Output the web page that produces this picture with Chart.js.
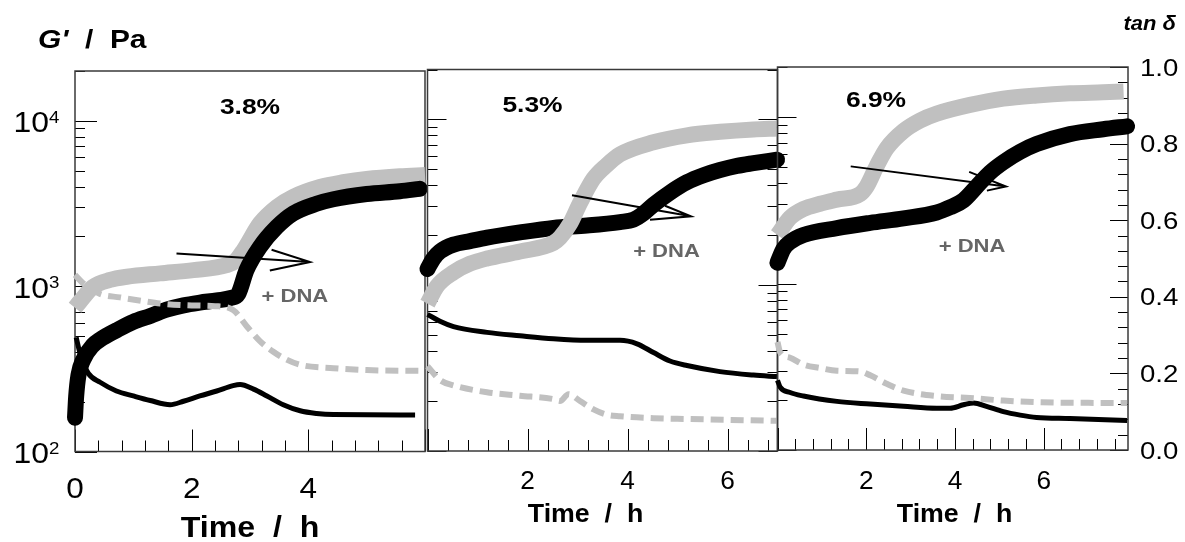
<!DOCTYPE html>
<html>
<head>
<meta charset="utf-8">
<script src="https://cdn.jsdelivr.net/npm/chart.js@4.4.1/dist/chart.umd.min.js"></script>
<style>
  body { margin: 0; background: #fff; }
  #wrap { position: relative; width: 1185px; height: 542px; }
  #wrap canvas { position: absolute; left: 0; top: 0; }
</style>
</head>
<body>
<div id="wrap">
  <canvas id="c1" width="1185" height="542"></canvas>
  <canvas id="c2" width="1185" height="542"></canvas>
  <canvas id="c3" width="1185" height="542"></canvas>
</div>
<script>
// ---- 3.8 % ----
let p1GreyHours = [0, 0.09, 0.31, 0.6, 0.89, 1.46, 2.03, 2.6, 2.75, 2.89, 3.17, 3.46, 3.74, 4.2, 4.6, 5.0, 5.57, 6.0]
let p1GreyG = [740, 810, 990, 1090, 1140, 1195, 1250, 1340, 1420, 1650, 2394, 3013, 3467, 3980, 4250, 4450, 4620, 4700]
let p1BlackHours = [0, 0.02, 0.06, 0.14, 0.31, 0.43, 0.71, 1.0, 1.29, 1.57, 1.86, 2.14, 2.43, 2.68, 2.8, 2.94, 3.17, 3.46, 3.74, 4.14, 4.43, 5.0, 5.57, 5.91]
let p1BlackG = [160, 215, 290, 358, 440, 475, 540, 608, 660, 720, 765, 795, 820, 850, 900, 1250, 1726, 2280, 2750, 3150, 3354, 3606, 3749, 3877]
let p1TanBlackHours = [0.02, 0.1, 0.23, 0.43, 0.71, 1.0, 1.29, 1.63, 1.86, 2.14, 2.43, 2.71, 2.83, 3.06, 3.29, 3.57, 3.86, 4.14, 4.43, 5.83]
let p1TanBlack = [0.30, 0.25, 0.205, 0.182, 0.159, 0.146, 0.134, 0.123, 0.132, 0.146, 0.159, 0.173, 0.176, 0.164, 0.146, 0.123, 0.107, 0.100, 0.097, 0.096]
let p1TanGreyHours = [0, 0.14, 0.43, 0.77, 1.14, 1.46, 2.0, 2.4, 2.71, 2.94, 3.17, 3.4, 3.57, 3.86, 4.43, 5.0, 6.0]
let p1TanGrey = [0.464, 0.442, 0.414, 0.405, 0.396, 0.389, 0.384, 0.382, 0.372, 0.33, 0.29, 0.262, 0.246, 0.228, 0.219, 0.214, 0.212]

// ---- 5.3 % ----
let p2GreyHours = [0, 0.19, 0.52, 0.85, 1.19, 1.85, 2.52, 2.65, 2.85, 3.05, 3.32, 3.59, 3.85, 4.52, 5.19, 5.85, 6.52, 6.99]
let p2GreyG = [774, 986, 1195, 1348, 1449, 1597, 1800, 1935, 2346, 3132, 4389, 5321, 6150, 7280, 8017, 8414, 8700, 8824]
let p2BlackHours = [0, 0.12, 0.25, 0.52, 0.85, 1.19, 1.85, 2.52, 3.19, 3.85, 4.12, 4.32, 4.52, 4.85, 5.19, 5.52, 5.85, 6.19, 6.52, 6.99]
let p2BlackG = [1253, 1449, 1595, 1757, 1844, 1935, 2081, 2215, 2291, 2404, 2486, 2710, 3057, 3620, 4182, 4606, 4951, 5245, 5448, 5718]
let p2TanBlackHours = [0, 0.25, 0.52, 1.19, 1.85, 2.52, 3.19, 3.85, 4.19, 4.52, 4.85, 5.19, 5.85, 6.52, 6.99]
let p2TanBlack = [0.358, 0.34, 0.326, 0.311, 0.302, 0.294, 0.29, 0.29, 0.281, 0.258, 0.236, 0.224, 0.208, 0.199, 0.195]
let p2TanGreyHours = [0, 0.25, 0.52, 1.19, 1.85, 2.52, 2.65, 2.82, 3.05, 3.32, 3.59, 3.85, 4.52, 5.19, 6.99]
let p2TanGrey = [0.222, 0.186, 0.172, 0.154, 0.145, 0.136, 0.131, 0.149, 0.131, 0.109, 0.095, 0.091, 0.086, 0.084, 0.079]

// ---- 6.9 % ----
let p3GreyHours = [0, 0.285, 0.585, 0.96, 1.34, 1.86, 2.01, 2.24, 2.46, 2.84, 3.21, 3.59, 4.34, 5.09, 5.84, 6.59, 7.34, 7.8]
let p3GreyG = [1957, 2488, 2805, 3013, 3193, 3448, 3831, 5109, 6494, 8254, 9532, 10491, 11835, 12900, 13500, 13900, 14100, 14250]
let p3BlackHours = [0, 0.135, 0.285, 0.585, 1.34, 2.09, 2.84, 3.59, 3.89, 4.19, 4.49, 4.79, 5.09, 5.47, 5.84, 6.59, 7.34, 7.88]
let p3BlackG = [1334, 1616, 1778, 1957, 2154, 2316, 2466, 2675, 2872, 3162, 3831, 4642, 5358, 6190, 6885, 7900, 8450, 8800]
let p3TanBlackHours = [0, 0.06, 0.285, 0.585, 1.34, 2.09, 2.84, 3.59, 3.89, 4.19, 4.42, 4.71, 5.09, 5.47, 5.84, 6.59, 7.88]
let p3TanBlack = [0.182, 0.164, 0.15, 0.141, 0.127, 0.12, 0.114, 0.109, 0.109, 0.118, 0.123, 0.114, 0.10, 0.091, 0.085, 0.082, 0.077]
let p3TanGreyHours = [0, 0.06, 0.285, 0.585, 0.96, 1.34, 1.86, 2.09, 2.46, 2.84, 3.59, 4.34, 5.09, 5.84, 7.34, 7.88]
let p3TanGrey = [0.282, 0.255, 0.241, 0.223, 0.214, 0.207, 0.205, 0.195, 0.173, 0.155, 0.141, 0.136, 0.129, 0.125, 0.123, 0.123]

// axis ticks
let gTicks = [100, 1000, 10000]
let tanTicks = [0, 0.2, 0.4, 0.6, 0.8, 1.0]

const FONT = '"Liberation Sans", Arial, Helvetica, sans-serif'

function pts(xs, ys) {
  return xs.map((x, i) => ({ x: x, y: ys[i] }))
}

function txt(ctx, s, x, y, font, align, sx, color) {
  ctx.save()
  ctx.font = font
  ctx.fillStyle = color || '#000'
  ctx.textAlign = align
  ctx.textBaseline = 'alphabetic'
  ctx.translate(x, y)
  ctx.scale(sx, 1)
  ctx.fillText(s, 0, 0)
  ctx.restore()
}

const panelDeco = {
  id: 'panelDeco',
  beforeDatasetsDraw(chart, args, o) {
    const ctx = chart.ctx, a = chart.chartArea
    const x = chart.scales.x, y = chart.scales.y, y2 = chart.scales.y2
    ctx.save()
    ctx.strokeStyle = '#000'
    ctx.lineWidth = 1
    ctx.beginPath()
    // time ticks every 0.4 h, long ones every 2 h
    for (let i = 0; i * 0.4 <= x.max + 1e-6; i++) {
      const px = Math.round(x.getPixelForValue(i * 0.4)) + 0.5
      const len = i % 5 === 0 ? 22 : 11
      ctx.moveTo(px, a.bottom)
      ctx.lineTo(px, a.bottom - len)
    }
    // log ticks on the G' axis
    for (let d = 100; d < y.max; d *= 10) {
      for (let m = 1; m <= 9; m++) {
        const v = d * m
        if (v > y.max) break
        const py = Math.round(y.getPixelForValue(v)) + 0.5
        const len = m === 1 ? o.logMajor : 10
        if (o.logLeft) { ctx.moveTo(a.left, py); ctx.lineTo(a.left + len, py) }
        if (o.logRight) { ctx.moveTo(a.right, py); ctx.lineTo(a.right - len, py) }
      }
    }
    if (o.tanTicks) {
      for (let i = 0; i <= 25; i++) {
        const py = Math.round(y2.getPixelForValue(i * 0.04)) + 0.5
        const len = i % 5 === 0 ? 18 : 10
        ctx.moveTo(a.right, py)
        ctx.lineTo(a.right - len, py)
      }
    }
    ctx.stroke()
    ctx.strokeStyle = '#3a3a3a'
    ctx.lineWidth = 1.5
    ctx.strokeRect(a.left, a.top, a.right - a.left, a.bottom - a.top)
    ctx.restore()
  },
  afterDatasetsDraw(chart, args, o) {
    const ctx = chart.ctx
    const x = chart.scales.x, y = chart.scales.y, y2 = chart.scales.y2
    const P = (p) => [x.getPixelForValue(p[0]), y.getPixelForValue(p[1])]

    // arrow
    const s = P(o.arrow[0]), t = P(o.arrow[1]), w1 = P(o.arrow[2]), w2 = P(o.arrow[3])
    ctx.save()
    ctx.strokeStyle = '#000'
    ctx.lineWidth = 2
    ctx.beginPath()
    ctx.moveTo(s[0], s[1]); ctx.lineTo(t[0], t[1])
    ctx.moveTo(w1[0], w1[1]); ctx.lineTo(t[0], t[1]); ctx.lineTo(w2[0], w2[1])
    ctx.stroke()
    ctx.restore()

    const tag = P(o.tagAt)
    txt(ctx, o.tag, tag[0], tag[1], 'bold 22px ' + FONT, 'center', 1.2)
    const dna = P(o.dnaAt)
    txt(ctx, '+ DNA', dna[0], dna[1], 'bold 19px ' + FONT, 'center', 1.16, '#666')

    // time labels
    o.xLabels.forEach(v => {
      txt(ctx, String(v), x.getPixelForValue(v), o.xBase, o.xFont + 'px ' + FONT, 'center', 1.05)
    })
    txt(ctx, 'Time  /  h', x.getPixelForValue(o.titleAt), o.titleBase,
      'bold ' + o.titleFont + 'px ' + FONT, 'center', 1.07)

    if (o.gLabels) {
      gTicks.forEach(v => {
        const py = y.getPixelForValue(v)
        txt(ctx, '10', 49, py + 11.5, '29px ' + FONT, 'right', 1.1)
        txt(ctx, String(Math.round(Math.log10(v))), 49, py + 2, '17px ' + FONT, 'left', 1.1)
      })
      txt(ctx, "G'", 38, 48, 'italic bold 26px ' + FONT, 'left', 1.15)
      ctx.save()
      ctx.font = 'italic bold 26px ' + FONT
      const gw = ctx.measureText("G'").width * 1.15
      ctx.restore()
      txt(ctx, '  /  Pa', 38 + gw, 48, 'bold 26px ' + FONT, 'left', 1.15)
    }
    if (o.tanLabels) {
      tanTicks.forEach(v => {
        txt(ctx, v.toFixed(1), 1140, y2.getPixelForValue(v) + 8.5, '23px ' + FONT, 'left', 1.2)
      })
      txt(ctx, 'tan \u03B4', 1176, 30, 'italic bold 20px ' + FONT, 'right', 1.1)
    }
  }
}

function makePanel(id, pad, xMax, series, deco) {
  const sets = series.map(s => Object.assign({
    pointRadius: 0,
    cubicInterpolationMode: 'monotone',
    fill: false,
    clip: false,
    borderJoinStyle: 'round'
  }, s))
  return new Chart(document.getElementById(id), {
    type: 'line',
    data: { datasets: sets },
    options: {
      responsive: false,
      devicePixelRatio: 1,
      animation: false,
      events: [],
      layout: { padding: pad },
      scales: {
        x: { type: 'linear', min: 0, max: xMax, display: false },
        y: { type: 'logarithmic', min: 100, max: 20000, display: false },
        y2: { type: 'linear', min: 0, max: 1, display: false }
      },
      plugins: {
        legend: { display: false },
        tooltip: { enabled: false },
        panelDeco: deco
      }
    },
    plugins: [panelDeco]
  })
}

const greyThick = { borderColor: '#c0c0c0', borderWidth: 16, borderCapStyle: 'butt', yAxisID: 'y' }
const blackThick = { borderColor: '#000', borderWidth: 16, borderCapStyle: 'round', yAxisID: 'y' }
const blackThin = { borderColor: '#000', borderWidth: 5, yAxisID: 'y2' }
const greyDash = { borderColor: '#c0c0c0', borderWidth: 6, borderDash: [13, 7], yAxisID: 'y2' }

// first dataset is drawn on top
makePanel('c1', { left: 75, right: 760, top: 71, bottom: 90.5 }, 6.0, [
  Object.assign({ label: 'tan δ (grey)', data: pts(p1TanGreyHours, p1TanGrey) }, greyDash),
  Object.assign({ label: 'tan δ (black)', data: pts(p1TanBlackHours, p1TanBlack) }, blackThin),
  Object.assign({ label: "G' (black)", data: pts(p1BlackHours, p1BlackG) }, blackThick),
  Object.assign({ label: "G' (grey)", data: pts(p1GreyHours, p1GreyG) }, greyThick)
], {
  logLeft: true, logRight: false, logMajor: 22, tanTicks: false,
  xLabels: [0, 2, 4], xFont: 30, xBase: 498,
  titleAt: 3.0, titleBase: 537, titleFont: 30,
  gLabels: true, tanLabels: false,
  tag: '3.8%', tagAt: [3.0, 11055], dnaAt: [3.77, 807],
  arrow: [[1.74, 1574], [4.03, 1400], [3.37, 1660], [3.34, 1242]]
})

makePanel('c2', { left: 427.5, right: 407.5, top: 69.5, bottom: 91 }, 7.0, [
  Object.assign({ label: 'tan δ (grey)', data: pts(p2TanGreyHours, p2TanGrey) }, greyDash),
  Object.assign({ label: 'tan δ (black)', data: pts(p2TanBlackHours, p2TanBlack) }, blackThin),
  Object.assign({ label: "G' (grey)", data: pts(p2GreyHours, p2GreyG) }, greyThick),
  Object.assign({ label: "G' (black)", data: pts(p2BlackHours, p2BlackG) }, blackThick)
], {
  logLeft: true, logRight: true, logMajor: 19, tanTicks: false,
  xLabels: [2, 4, 6], xFont: 25, xBase: 489,
  titleAt: 3.16, titleBase: 521.5, titleFont: 25,
  gLabels: false, tanLabels: false,
  tag: '5.3%', tagAt: [2.1, 11130], dnaAt: [4.78, 1476],
  arrow: [[2.89, 3483], [5.27, 2606], [4.75, 3013], [4.45, 2485]]
})

makePanel('c3', { left: 777.5, right: 57, top: 67, bottom: 92 }, 7.9, [
  Object.assign({ label: 'tan δ (grey)', data: pts(p3TanGreyHours, p3TanGrey) }, greyDash),
  Object.assign({ label: 'tan δ (black)', data: pts(p3TanBlackHours, p3TanBlack) }, blackThin),
  Object.assign({ label: "G' (black)", data: pts(p3BlackHours, p3BlackG) }, blackThick),
  Object.assign({ label: "G' (grey)", data: pts(p3GreyHours, p3GreyG) }, greyThick)
], {
  logLeft: true, logRight: false, logMajor: 19, tanTicks: true,
  xLabels: [2, 4, 6], xFont: 25, xBase: 489,
  titleAt: 3.99, titleBase: 522, titleFont: 25,
  gLabels: false, tanLabels: true,
  tag: '6.9%', tagAt: [2.22, 11480], dnaAt: [4.385, 1542],
  arrow: [[1.65, 5058], [5.15, 3831], [4.32, 4688], [4.72, 3616]]
})
</script>
</body>
</html>
